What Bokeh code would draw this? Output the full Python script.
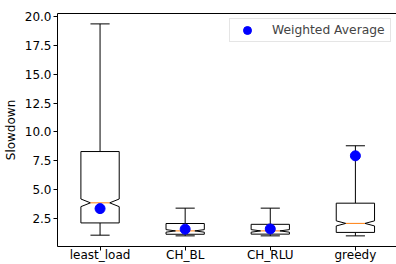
from bokeh.plotting import figure
from bokeh.models import Range1d, FixedTicker, Legend, LegendItem, LinearAxis
from bokeh.embed import file_html
from bokeh.resources import INLINE

categories = ["least_load", "CH_BL", "CH_RLU", "greedy"]
whisker_low = [1.06, 1.0, 1.0, 1.0]
q1 = [2.12, 1.14, 1.15, 1.3]
median = [3.86, 1.43, 1.43, 2.08]
q3 = [8.3, 2.07, 2.0, 3.83]
whisker_high = [19.35, 3.4, 3.4, 8.8]
notch_low = [3.53, 1.32, 1.32, 1.86]
notch_high = [4.19, 1.54, 1.54, 2.3]
weighted_avg = [3.36, 1.58, 1.6, 7.93]
y_ticks = [2.5, 5.0, 7.5, 10.0, 12.5, 15.0, 17.5, 20.0]

FONT = "DejaVu Sans"
box_w = 0.45
pos = [i + 1 for i in range(len(categories))]

p = figure(width=396, height=264, output_backend="svg", toolbar_location=None,
           x_range=Range1d(0.5, 4.483), y_range=Range1d(0.08, 20.25),
           x_axis_location=None, y_axis_location=None,
           min_border_top=13, min_border_right=0, min_border_left=57, min_border_bottom=0)
p.xgrid.visible = False
p.ygrid.visible = False
p.outline_line_color = None
p.background_fill_color = "white"

top_axis = LinearAxis(ticker=FixedTicker(ticks=[]), major_tick_out=0, major_tick_in=0,
                      minor_tick_out=0, minor_tick_in=0, axis_line_color="black",
                      major_label_standoff=0)
p.add_layout(top_axis, "above")

x_axis = LinearAxis(ticker=FixedTicker(ticks=pos),
                    major_label_overrides={x: c for x, c in zip(pos, categories)})
y_axis = LinearAxis(ticker=FixedTicker(ticks=y_ticks),
                    major_label_overrides={t: f"{t:.1f}" for t in y_ticks},
                    axis_label="Slowdown")
for ax in (x_axis, y_axis):
    ax.major_label_text_font = FONT
    ax.major_label_text_font_size = "12px"
    ax.major_label_text_color = "black"
    ax.axis_label_text_font = FONT
    ax.axis_label_text_font_size = "12px"
    ax.axis_label_text_font_style = "normal"
    ax.axis_label_text_color = "black"
    ax.major_tick_out = 4
    ax.major_tick_in = 0
    ax.minor_tick_out = 0
    ax.minor_tick_in = 0
    ax.major_tick_line_color = "black"
    ax.axis_line_color = "black"
    ax.major_label_standoff = 2
x_axis.major_label_standoff = -3
y_axis.axis_label_standoff = 4
p.add_layout(x_axis, "below")
p.add_layout(y_axis, "left")

# whiskers
p.segment(x0=pos, y0=whisker_low, x1=pos, y1=q1, line_color="black", line_width=1)
p.segment(x0=pos, y0=q3, x1=pos, y1=whisker_high, line_color="black", line_width=1)
cap_half = box_w / 4
p.segment(x0=[x - cap_half for x in pos], y0=whisker_low, x1=[x + cap_half for x in pos], y1=whisker_low,
          line_color="black", line_width=1)
p.segment(x0=[x - cap_half for x in pos], y0=whisker_high, x1=[x + cap_half for x in pos], y1=whisker_high,
          line_color="black", line_width=1)

# notched boxes
xs, ys = [], []
for i, x in enumerate(pos):
    l, r = x - box_w / 2, x + box_w / 2
    ml, mr = x - box_w / 4, x + box_w / 4
    xs.append([l, r, r, mr, r, r, l, l, ml, l])
    ys.append([q1[i], q1[i], notch_low[i], median[i], notch_high[i], q3[i], q3[i], notch_high[i], median[i], notch_low[i]])
p.patches(xs=xs, ys=ys, fill_color="white", line_color="black", line_width=1)

# medians
p.segment(x0=[x - box_w / 4 for x in pos], y0=median, x1=[x + box_w / 4 for x in pos], y1=median,
          line_color="#ff7f0e", line_width=1)

avg = p.scatter(x=pos, y=weighted_avg, size=10, fill_color="#0000ff", line_color="#0000ff")

legend = Legend(items=[LegendItem(label="Weighted Average", renderers=[avg])], location="top_right")
legend.label_text_font = FONT
legend.label_text_font_size = "12.3px"
legend.border_line_color = "#cccccc"
legend.border_line_width = 1
legend.margin = 5
legend.padding = 1
legend.spacing = 0
legend.glyph_width = 32
legend.glyph_height = 20
legend.label_height = 20
legend.label_width = 117
legend.label_standoff = 9
p.add_layout(legend)

open("out.html", "w").write(file_html(p, INLINE))
